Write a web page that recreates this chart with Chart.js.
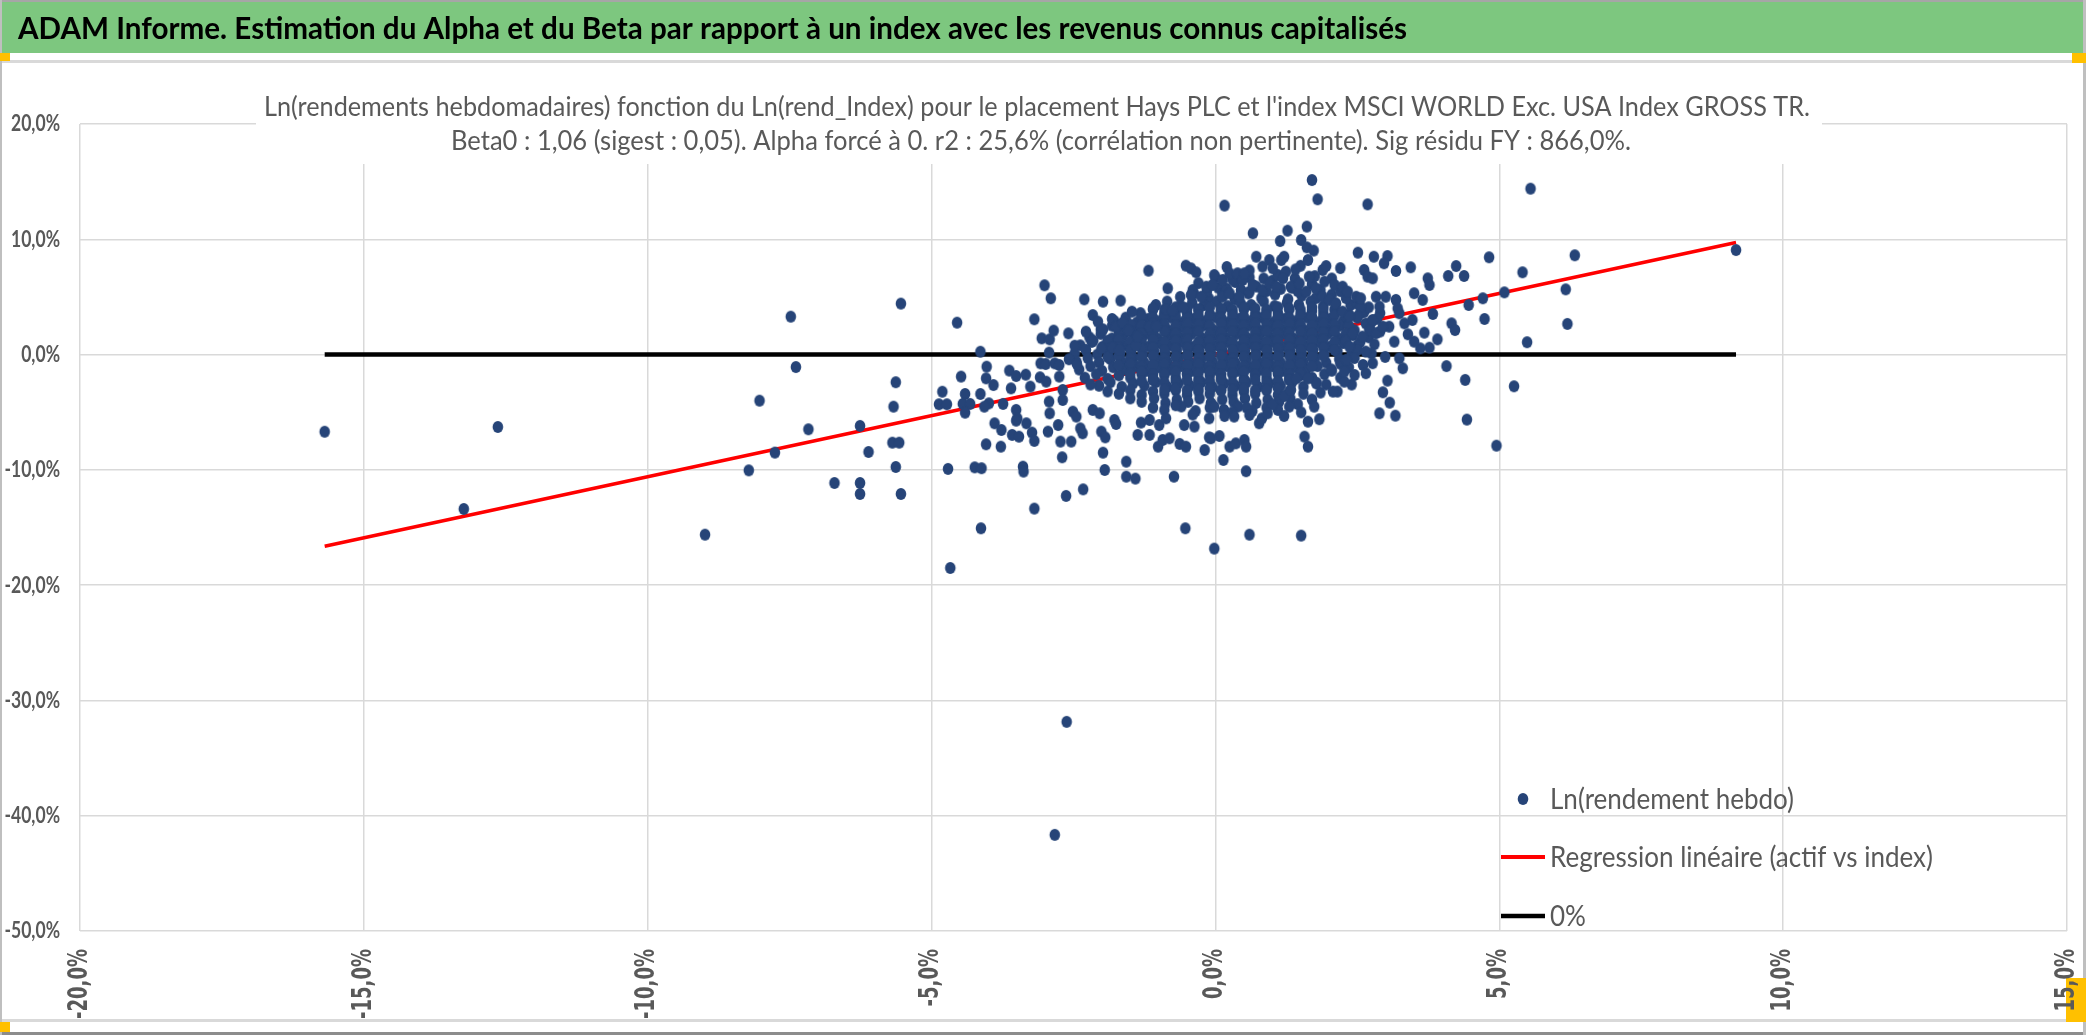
<!DOCTYPE html>
<html>
<head>
<meta charset="utf-8">
<script src="https://cdn.jsdelivr.net/npm/chart.js@4.4.1/dist/chart.umd.min.js"></script>
<style>
  html, body { margin: 0; padding: 0; background: #fff; overflow: hidden; }
  canvas { display: block; }
</style>
</head>
<body>
<canvas id="scatter_hays" width="2086" height="1035"></canvas>
<script>
// Ln(rend index), Ln(rend Hays) en %
const leftTail = [
  [-15.69,-6.69],[-12.64,-6.28],[-13.24,-13.39],[-8.99,-15.62],[-7.48,3.29],[-7.39,-1.08],[-8.03,-4.0],
  [-7.17,-6.48],[-7.76,-8.5],[-8.22,-10.04],[-6.71,-11.14],[-6.26,-11.14],[-6.26,-12.09],[-6.26,-6.19],
  [-6.11,-8.45],[-5.63,-2.4],[-5.67,-4.52],[-5.69,-7.64],[-5.57,-7.64],[-5.63,-9.75],[-5.54,-12.09],[-5.54,4.42]
];
const crashWeeks = [[-2.62,-31.86],[-2.83,-41.66]];
const midLeft = [
  [-4.55,2.77],[-4.81,-3.22],[-4.87,-4.31],[-4.73,-4.31],[-4.48,-1.91],[-4.41,-3.42],[-4.45,-4.28],[-4.32,-4.28],
  [-4.41,-5.04],[-4.14,0.25],[-4.14,-3.42],[-4.03,-1.05],[-4.04,-2.06],[-3.91,-2.64],[-3.99,-4.23],[-4.07,-4.52],
  [-3.74,-4.28],[-3.89,-5.96],[-3.77,-6.54],[-4.04,-7.78],[-3.78,-7.99],[-4.71,-9.92],[-4.24,-9.78],[-4.12,-9.86],
  [-3.39,-9.72],[-3.38,-10.15],[-4.13,-15.07],[-4.67,-18.51],[-3.19,-13.36],[-2.63,-12.26],[-2.33,-11.69],
  [-1.95,-10.01],[-1.57,-9.29],[-1.57,-10.59],[-1.41,-10.76],[-1.98,-8.51],[-0.73,-10.59],[-0.53,-15.07],
  [-0.02,-16.83],[-2.70,-8.91],[-3.01,6.01],[-2.90,4.88],[-3.19,3.06],[-2.31,4.79],[-1.98,4.59],[-1.67,4.68],
  [-1.18,7.28],[-0.52,7.71],[-0.43,7.48],[-0.34,7.14],[-0.84,5.75],[-0.02,6.9],[-3.06,1.41],[-2.92,1.32],
  [-2.85,2.08],[-2.59,1.84],[-2.48,0.77],[-2.93,0.17],[-3.63,-1.39],[-3.51,-1.86],[-3.34,-1.74],[-3.6,-2.93],
  [-3.26,-2.78],[-3.51,-4.8],[-3.49,-5.53],[-3.51,-5.73],[-3.33,-5.96],[-3.58,-6.97],[-3.46,-7.12],[-3.23,-6.77],
  [-3.19,-7.49],[-2.95,-6.68],[-2.77,-6.11],[-2.73,-7.55],[-2.54,-7.55],[-2.92,-5.09],[-3.08,-0.76],[-2.99,-0.82],
  [-2.83,-0.76],[-2.75,-0.9],[-2.58,-0.41],[-2.44,-0.82],[-3.09,-1.97],[-2.98,-2.35],[-2.75,-1.91],[-2.69,-3.07],
  [-2.93,-4.08],[-2.69,-3.94],[-2.51,-4.95],[-2.45,-5.38],[-2.38,-6.4],[-2.34,-6.83],[-2.01,-6.68],[-1.94,-7.18],
  [-2.16,-4.8],[-2.04,-5.09],[-1.78,-5.67],[-1.75,-6.02],[-2.16,3.43],[-2.07,2.86],[-1.98,2.19],[-2.28,1.99],
  [-2.15,1.21],[-1.82,3.09],[-1.75,2.42],[-1.63,2.77],[-1.47,3.72],[-1.54,2.13],[-2.01,0.54],[-1.81,0.63],
  [-1.69,0.4],[-1.40,0.83],[-1.37,-6.97],[-1.16,-6.97],[-1.31,-5.9],[-1.16,-5.67],[-1.01,-7.99],[-0.93,-7.41],
  [-0.81,-7.26],[-0.63,-7.75],[-0.52,-7.99],[-0.19,-8.28],[-0.11,-7.18],[-0.55,-6.11],[-0.37,-6.25],[-0.99,-6.11],
  [-0.87,-5.53],[-0.87,3.93],[-0.75,3.81],[-0.57,4.1],[-0.43,5.17],[-0.25,5.02],[-0.16,5.89],[-0.05,6.04],
  [-1.16,2.42],[-1.04,2.42],[-1.37,1.56]
];
const midRight = [
  [1.70,15.14],[1.80,13.47],[2.68,13.03],[0.16,12.92],[0.66,10.52],[1.27,10.75],[1.61,11.1],[1.14,9.85],
  [1.51,9.94],[1.61,9.3],[1.73,9.02],[2.51,8.84],[2.79,8.49],[3.03,8.55],[2.97,7.92],[3.18,7.25],[3.44,7.57],
  [3.74,6.61],[3.77,6.04],[4.1,6.82],[4.24,7.68],[4.38,6.82],[4.82,8.44],[5.09,5.4],[4.71,4.88],[4.74,3.09],
  [4.46,4.3],[4.16,2.71],[4.22,2.13],[3.91,1.32],[4.07,-1.0],[4.4,-2.2],[4.43,-5.64],[4.95,-7.9],[3.83,3.52],
  [3.68,1.9],[3.77,0.6],[3.61,0.54],[3.50,1.12],[3.39,1.76],[3.47,3.0],[3.5,5.32],[3.65,4.74],[3.33,2.71],
  [3.24,3.58],[3.18,4.74],[3.21,4.01],[3.06,2.42],[3.15,1.12],[2.99,-0.2],[3.24,-0.32],[3.3,-1.19],[3.03,-2.26],
  [2.95,-3.27],[3.07,-4.17],[3.17,-5.3],[2.89,-5.09],[2.65,-1.62],[2.77,-0.75],[2.65,0.26],[2.45,-1.77],
  [2.27,-2.35],[2.27,-1.48],[2.15,-3.21],[2.07,-3.21],[2.04,-1.28],[1.78,-2.44],[1.63,-2.06],[1.43,-2.06],
  [1.74,-4.52],[1.83,-5.61],[1.63,-5.82],[1.57,-7.12],[1.63,-7.99],[1.51,-5.01],[1.30,-4.52],[1.21,-5.33],
  [1.51,-15.7],[0.6,-15.62],[0.54,-10.12],[0.14,-9.14],[0.25,-7.99],[0.36,-7.7],[0.51,-7.41],[0.54,-7.99],
  [0.07,-7.06],[-0.08,-7.26],[0.16,-5.33],[0.33,-5.38],[0.6,-5.24],[0.77,-5.96],[0.82,-5.53],[0.92,-5.09],
  [-0.02,-4.52],[-0.11,-5.53],[1.21,-3.59],[1.33,-3.07],
  [0.13,6.47],[0.25,7.05],[0.39,7.05],[0.48,6.47],[0.51,7.05],[0.72,8.49],[0.83,7.63],[0.95,8.2],[1.01,7.48],
  [1.16,8.2],[1.21,8.49],[1.24,7.19],[1.41,7.39],[1.63,8.2],[1.65,6.76],[1.89,7.34],[1.95,7.68],[1.92,6.33],
  [2.1,6.04],[2.24,5.89],[2.33,5.46],[2.48,5.02],[2.56,4.16],[2.62,7.34],[2.68,6.76],[2.77,6.61],[2.56,4.88],
  [2.83,5.02],[2.89,4.16],[3.0,5.02],[2.77,3.0],[2.71,2.13],[2.83,1.85],[2.95,2.42],[2.5,3.29],[2.59,1.56],
  [2.42,1.85],[2.36,0.69],[2.30,-0.46],[0.13,5.02],[0.25,5.32],[0.42,5.02],[0.6,5.46],[0.66,6.04],[0.83,5.6],
  [0.95,6.18],[1.07,5.89],[1.19,6.61],[1.33,5.89],[1.48,6.18],[1.6,5.46],[1.77,5.75],[1.89,5.02],[2.01,4.74],
  [2.12,4.45],[2.24,3.73],[2.36,3.29]
];
const rightTail = [[5.55,14.39],[6.33,8.61],[5.41,7.14],[6.17,5.66],[6.2,2.66],[5.49,1.07],[5.26,-2.75],[9.17,9.07]];
// le nuage dense autour de zéro
const coreUpper = [
  [-0.3,6.2],[0.05,5.8],[0.35,6.3],[0.72,5.9],[1.0,6.4],[1.35,5.8],[1.7,6.1],
  [-0.62,5.0],[-0.38,5.3],[-0.12,4.9],[0.12,5.2],[0.34,4.8],[0.58,5.3],[0.81,4.9],[1.05,5.2],[1.28,4.8],[1.52,5.1],[1.77,4.9],[2.05,5.2],
  [-1.05,4.3],[-0.85,4.6],[-0.62,4.2],[-0.41,4.5],[-0.2,4.3],[0.02,4.6],[0.22,4.2],[0.44,4.5],[0.63,4.3],[0.85,4.6],[1.04,4.2],[1.26,4.5],[1.47,4.3],[1.68,4.6],[1.9,4.2],[2.12,4.4],[2.38,4.3],
  [-1.32,3.6],[-1.1,3.9],[-0.9,3.5],[-0.7,3.8],[-0.5,3.6],[-0.3,3.9],[-0.1,3.5],[0.1,3.8],[0.3,3.6],[0.5,3.9],[0.7,3.5],[0.9,3.8],[1.1,3.6],[1.3,3.9],[1.5,3.5],[1.7,3.8],[1.9,3.6],[2.1,3.9],[2.35,3.5],[2.62,3.7],
  [-1.78,2.9],[-1.58,3.2],[-1.38,2.8],[-1.18,3.1],[-0.98,2.9],[-0.78,3.2],[-0.58,2.8],[-0.38,3.1],[-0.18,2.9],[0.02,3.2],[0.22,2.8],[0.42,3.1],[0.62,2.9],[0.82,3.2],[1.02,2.8],[1.22,3.1],[1.42,2.9],[1.62,3.2],[1.82,2.8],[2.02,3.1],[2.25,2.9],[2.5,3.2],[2.76,2.9],
  [-2.02,2.2],[-1.82,2.5],[-1.62,2.1],[-1.42,2.4],[-1.22,2.2],[-1.02,2.5],[-0.82,2.1],[-0.62,2.4],[-0.42,2.2],[-0.22,2.5],[-0.02,2.1],[0.18,2.4],[0.38,2.2],[0.58,2.5],[0.78,2.1],[0.98,2.4],[1.18,2.2],[1.38,2.5],[1.58,2.1],[1.78,2.4],[1.98,2.2],[2.2,2.5],[2.45,2.1],[2.72,2.3],
  [-2.22,1.5],[-2.02,1.8],[-1.82,1.4],[-1.62,1.7],[-1.42,1.5],[-1.22,1.8],[-1.02,1.4],[-0.82,1.7],[-0.62,1.5],[-0.42,1.8],[-0.22,1.4],[-0.02,1.7],[0.18,1.5],[0.38,1.8],[0.58,1.4],[0.78,1.7],[0.98,1.5],[1.18,1.8],[1.38,1.4],[1.58,1.7],[1.78,1.5],[1.98,1.8],[2.18,1.4],[2.42,1.7],[2.7,1.5],
  [-2.38,0.8],[-2.18,1.1],[-1.98,0.7],[-1.78,1.0],[-1.58,0.8],[-1.38,1.1],[-1.18,0.7],[-0.98,1.0],[-0.78,0.8],[-0.58,1.1],[-0.38,0.7],[-0.18,1.0],[0.02,0.8],[0.22,1.1],[0.42,0.7],[0.62,1.0],[0.82,0.8],[1.02,1.1],[1.22,0.7],[1.42,1.0],[1.62,0.8],[1.82,1.1],[2.02,0.7],[2.25,1.0],[2.5,0.8]
];
const coreLower = [
  [-2.48,0.1],[-2.28,0.4],[-2.08,0.0],[-1.88,0.3],[-1.68,0.1],[-1.48,0.4],[-1.28,0.0],[-1.08,0.3],[-0.88,0.1],[-0.68,0.4],[-0.48,0.0],[-0.28,0.3],[-0.08,0.1],[0.12,0.4],[0.32,0.0],[0.52,0.3],[0.72,0.1],[0.92,0.4],[1.12,0.0],[1.32,0.3],[1.52,0.1],[1.72,0.4],[1.92,0.0],[2.15,0.3],[2.4,0.1],
  [-2.45,-0.6],[-2.25,-0.3],[-2.05,-0.7],[-1.85,-0.4],[-1.65,-0.6],[-1.45,-0.3],[-1.25,-0.7],[-1.05,-0.4],[-0.85,-0.6],[-0.65,-0.3],[-0.45,-0.7],[-0.25,-0.4],[-0.05,-0.6],[0.15,-0.3],[0.35,-0.7],[0.55,-0.4],[0.75,-0.6],[0.95,-0.3],[1.15,-0.7],[1.35,-0.4],[1.55,-0.6],[1.75,-0.3],[1.95,-0.7],[2.18,-0.4],
  [-2.4,-1.3],[-2.2,-1.0],[-2.0,-1.4],[-1.8,-1.1],[-1.6,-1.3],[-1.4,-1.0],[-1.2,-1.4],[-1.0,-1.1],[-0.8,-1.3],[-0.6,-1.0],[-0.4,-1.4],[-0.2,-1.1],[0.0,-1.3],[0.2,-1.0],[0.4,-1.4],[0.6,-1.1],[0.8,-1.3],[1.0,-1.0],[1.2,-1.4],[1.4,-1.1],[1.6,-1.3],[1.8,-1.0],[2.05,-1.4],
  [-2.3,-2.0],[-2.1,-1.7],[-1.9,-2.1],[-1.7,-1.8],[-1.5,-2.0],[-1.3,-1.7],[-1.1,-2.1],[-0.9,-1.8],[-0.7,-2.0],[-0.5,-1.7],[-0.3,-2.1],[-0.1,-1.8],[0.1,-2.0],[0.3,-1.7],[0.5,-2.1],[0.7,-1.8],[0.9,-2.0],[1.1,-1.7],[1.3,-2.1],[1.5,-1.8],[1.7,-2.0],[1.92,-1.7],
  [-2.05,-2.7],[-1.85,-2.4],[-1.65,-2.8],[-1.45,-2.5],[-1.25,-2.7],[-1.05,-2.4],[-0.85,-2.8],[-0.65,-2.5],[-0.45,-2.7],[-0.25,-2.4],[-0.05,-2.8],[0.15,-2.5],[0.35,-2.7],[0.55,-2.4],[0.75,-2.8],[0.95,-2.5],[1.15,-2.7],[1.35,-2.4],[1.55,-2.8],[1.78,-2.5],
  [-1.7,-3.4],[-1.5,-3.1],[-1.3,-3.5],[-1.1,-3.2],[-0.9,-3.4],[-0.7,-3.1],[-0.5,-3.5],[-0.3,-3.2],[-0.1,-3.4],[0.1,-3.1],[0.3,-3.5],[0.5,-3.2],[0.7,-3.4],[0.9,-3.1],[1.1,-3.5],[1.3,-3.2],[1.55,-3.4],
  [-1.3,-4.1],[-1.08,-3.8],[-0.88,-4.2],[-0.68,-3.9],[-0.48,-4.1],[-0.28,-3.8],[-0.08,-4.2],[0.12,-3.9],[0.32,-4.1],[0.52,-3.8],[0.72,-4.2],[0.92,-3.9],[1.12,-4.1],[1.32,-3.8],
  [-0.9,-4.8],[-0.6,-4.5],[-0.35,-4.9],[-0.1,-4.6],[0.15,-4.8],[0.4,-4.5],[0.65,-4.9],[0.9,-4.6],[1.1,-4.8]
];
// zone la plus serrée du nuage, entre les rangées ci-dessus
const coreFill = [
  [-1.1,4.0],[-0.9,3.9],[-0.7,4.1],[-0.5,4.0],[-0.3,3.9],[-0.1,4.1],[0.1,4.0],[0.3,3.9],[0.5,4.1],[0.7,4.0],[0.9,3.9],[1.1,4.1],[1.3,4.0],[1.5,3.9],[1.7,4.1],[1.9,4.0],[2.1,3.9],
  [-1.3,3.3],[-1.1,3.2],[-0.9,3.4],[-0.7,3.3],[-0.5,3.2],[-0.3,3.4],[-0.1,3.3],[0.1,3.2],[0.3,3.4],[0.5,3.3],[0.7,3.2],[0.9,3.4],[1.1,3.3],[1.3,3.2],[1.5,3.4],[1.7,3.3],[1.9,3.2],[2.1,3.4],[2.3,3.3],
  [-1.5,2.6],[-1.3,2.5],[-1.1,2.7],[-0.9,2.6],[-0.7,2.5],[-0.5,2.7],[-0.3,2.6],[-0.1,2.5],[0.1,2.7],[0.3,2.6],[0.5,2.5],[0.7,2.7],[0.9,2.6],[1.1,2.5],[1.3,2.7],[1.5,2.6],[1.7,2.5],[1.9,2.7],[2.1,2.6],[2.35,2.5],
  [-1.7,1.9],[-1.5,2.0],[-1.3,1.8],[-1.1,1.9],[-0.9,2.0],[-0.7,1.8],[-0.5,1.9],[-0.3,2.0],[-0.1,1.8],[0.1,1.9],[0.3,2.0],[0.5,1.8],[0.7,1.9],[0.9,2.0],[1.1,1.8],[1.3,1.9],[1.5,2.0],[1.7,1.8],[1.9,1.9],[2.1,2.0],[2.3,1.8],
  [-1.9,1.2],[-1.7,1.3],[-1.5,1.1],[-1.3,1.2],[-1.1,1.3],[-0.9,1.1],[-0.7,1.2],[-0.5,1.3],[-0.3,1.1],[-0.1,1.2],[0.1,1.3],[0.3,1.1],[0.5,1.2],[0.7,1.3],[0.9,1.1],[1.1,1.2],[1.3,1.3],[1.5,1.1],[1.7,1.2],[1.9,1.3],[2.1,1.1],[2.3,1.2],
  [-1.9,0.5],[-1.7,0.6],[-1.5,0.4],[-1.3,0.5],[-1.1,0.6],[-0.9,0.4],[-0.7,0.5],[-0.5,0.6],[-0.3,0.4],[-0.1,0.5],[0.1,0.6],[0.3,0.4],[0.5,0.5],[0.7,0.6],[0.9,0.4],[1.1,0.5],[1.3,0.6],[1.5,0.4],[1.7,0.5],[1.9,0.6],[2.1,0.4],
  [-1.9,-0.2],[-1.7,-0.1],[-1.5,-0.3],[-1.3,-0.2],[-1.1,-0.1],[-0.9,-0.3],[-0.7,-0.2],[-0.5,-0.1],[-0.3,-0.3],[-0.1,-0.2],[0.1,-0.1],[0.3,-0.3],[0.5,-0.2],[0.7,-0.1],[0.9,-0.3],[1.1,-0.2],[1.3,-0.1],[1.5,-0.3],[1.7,-0.2],[1.9,-0.1],
  [-1.7,-0.9],[-1.5,-0.8],[-1.3,-1.0],[-1.1,-0.9],[-0.9,-0.8],[-0.7,-1.0],[-0.5,-0.9],[-0.3,-0.8],[-0.1,-1.0],[0.1,-0.9],[0.3,-0.8],[0.5,-1.0],[0.7,-0.9],[0.9,-0.8],[1.1,-1.0],[1.3,-0.9],[1.5,-0.8],[1.7,-1.0],
  [-1.5,-1.6],[-1.3,-1.5],[-1.1,-1.7],[-0.9,-1.6],[-0.7,-1.5],[-0.5,-1.7],[-0.3,-1.6],[-0.1,-1.5],[0.1,-1.7],[0.3,-1.6],[0.5,-1.5],[0.7,-1.7],[0.9,-1.6],[1.1,-1.5],[1.3,-1.7],[1.5,-1.6],
  [-1.3,-2.3],[-1.1,-2.2],[-0.9,-2.4],[-0.7,-2.3],[-0.5,-2.2],[-0.3,-2.4],[-0.1,-2.3],[0.1,-2.2],[0.3,-2.4],[0.5,-2.3],[0.7,-2.2],[0.9,-2.4],[1.1,-2.3],[1.3,-2.2],
  [-0.9,-3.0],[-0.7,-2.9],[-0.5,-3.1],[-0.3,-3.0],[-0.1,-2.9],[0.1,-3.1],[0.3,-3.0],[0.5,-2.9],[0.7,-3.1],[0.9,-3.0],[1.1,-2.9]
];
// bords du nuage (haut, droite, bas)
const coreEdges = [
  [-0.4,5.6],[-0.15,5.5],[0.2,5.7],[0.45,5.6],[0.9,5.5],[1.15,5.7],[1.45,5.5],[1.85,5.6],[2.2,5.5],
  [0.0,6.7],[0.3,6.5],[0.6,6.7],[0.85,6.6],[1.1,6.9],[1.4,6.6],[1.75,6.8],[2.05,6.6],
  [0.2,7.6],[0.6,7.3],[1.5,7.7],[2.2,7.5],
  [2.3,4.9],[2.5,4.4],[2.7,4.1],[2.9,3.6],[2.55,3.6],[2.85,3.1],[2.65,2.7],[2.9,2.0],[2.55,1.1],[2.8,0.9],
  [2.5,0.4],[2.75,0.1],[2.45,-0.3],[2.6,-0.9],[2.35,-1.1],[2.2,-0.8],[2.4,-2.6],[2.2,-2.0],[1.95,-2.6],
  [1.85,-3.3],[1.7,-3.9],[1.45,-4.3],
  [-0.7,-4.4],[-0.4,-5.2],[0.3,-5.0],[0.55,-4.6],[1.0,-4.3],[-1.1,-4.6],[-1.5,-3.8],[-1.9,-3.2],[-2.2,-2.6]
];

const beta0 = 1.06; // alpha forcé à 0
const xTicks = [-20, -15, -10, -5, 0, 5, 10, 15];
const yTicks = [20, 10, 0, -10, -20, -30, -40, -50];

const headerText = 'ADAM Informe. Estimation du Alpha et du Beta par rapport à un index avec les revenus connus capitalisés';
const titleLines = [
  "Ln(rendements hebdomadaires) fonction du Ln(rend_Index) pour le placement Hays PLC et l'index MSCI WORLD Exc. USA Index GROSS TR.",
  'Beta0 : 1,06 (sigest : 0,05). Alpha forcé à 0. r2 : 25,6% (corrélation non pertinente). Sig résidu FY : 866,0%.'
];
const legendLabels = ['Ln(rendement hebdo)', 'Regression linéaire (actif vs index)', '0%'];

const allPoints = [].concat(coreUpper, coreLower, coreFill, coreEdges, midLeft, midRight, leftTail, rightTail, crashWeeks)
  .map(([x, y]) => ({x: x, y: y}));
const xMin = Math.min(...allPoints.map(p => p.x));
const xMax = Math.max(...allPoints.map(p => p.x));
const regression = [{x: xMin, y: beta0 * xMin}, {x: xMax, y: beta0 * xMax}];
const zeroLine = [{x: xMin, y: 0}, {x: xMax, y: 0}];

const GREY_TEXT = '#595959';
const DOT = '#264478';

// marqueur un peu plus haut que large, comme dans l'export Excel
const dotImage = document.createElement('canvas');
dotImage.width = 14;
dotImage.height = 14;
(function () {
    const c = dotImage.getContext('2d');
    c.fillStyle = DOT;
    c.beginPath();
    c.ellipse(7, 7, 5.3, 6.0, 0, 0, Math.PI * 2);
    c.fill();
})();

function pct(v) {
    return v.toFixed(1).replace('.', ',') + '%';
}

// texte compressé horizontalement pour imiter le Calibri étroit
function fitText(ctx, text, x, y, width) {
    const w = ctx.measureText(text).width;
    ctx.save();
    ctx.translate(x, y);
    ctx.scale(width / w, 1);
    ctx.textAlign = 'left';
    ctx.fillText(text, 0, 0);
    ctx.restore();
}

const framePlugin = {
    id: 'framePlugin',
    beforeDraw: (chart) => {
        const ctx = chart.ctx;
        ctx.save();
        ctx.fillStyle = '#ffffff';
        ctx.fillRect(0, 0, chart.width, chart.height);
        // bandeau vert
        ctx.fillStyle = '#a6a6a6';
        ctx.fillRect(0, 0, chart.width, 2);
        ctx.fillStyle = '#7dc77f';
        ctx.fillRect(0, 2, chart.width, 51);
        ctx.fillStyle = '#d9d9d9';
        ctx.fillRect(0, 60, chart.width, 3);
        ctx.fillRect(0, 1019, chart.width, 3);
        ctx.fillStyle = '#8c8c8c';
        ctx.fillRect(0, 1032, chart.width, 3);
        ctx.fillStyle = '#bfbfbf';
        ctx.fillRect(0, 0, 2, chart.height);
        ctx.fillRect(chart.width - 3, 0, 3, chart.height);
        // petits carrés orange
        ctx.fillStyle = '#ffc000';
        ctx.fillRect(0, 53, 10, 8);
        ctx.fillRect(chart.width - 14, 53, 14, 10);
        ctx.fillRect(0, 1022, 10, 10);
        ctx.fillRect(chart.width - 20, 978, 20, 44);

        ctx.fillStyle = '#000000';
        ctx.font = 'bold 31px Lato';
        ctx.textBaseline = 'alphabetic';
        fitText(ctx, headerText, 18, 39, 1389);
        ctx.restore();
    },
    beforeDatasetsDraw: (chart) => {
        const ctx = chart.ctx;
        ctx.save();
        ctx.fillStyle = '#ffffff';
        ctx.fillRect(256, 64, 1566, 100);
        ctx.fillStyle = GREY_TEXT;
        ctx.font = '27px Lato';
        ctx.textBaseline = 'alphabetic';
        fitText(ctx, titleLines[0], 264, 116, 1546);
        fitText(ctx, titleLines[1], 451, 150, 1180);
        ctx.restore();
    },
    afterDraw: (chart) => {
        const ctx = chart.ctx;
        const xAxis = chart.scales.x;
        const yAxis = chart.scales.y;
        ctx.save();
        ctx.fillStyle = GREY_TEXT;

        // graduations de l'axe vertical
        ctx.font = 'bold 23px Lato';
        ctx.textBaseline = 'middle';
        const sy = 49 / ctx.measureText(pct(20)).width;
        yTicks.forEach(v => {
            const label = pct(v);
            const w = ctx.measureText(label).width * sy;
            fitText(ctx, label, 60 - w, yAxis.getPixelForValue(v), w);
        });

        // graduations de l'axe horizontal, tournées
        ctx.font = 'bold 26px "DejaVu Sans"';
        const sx = 50 / ctx.measureText(pct(0)).width;
        xTicks.forEach(v => {
            ctx.save();
            ctx.translate(xAxis.getPixelForValue(v), 949);
            ctx.rotate(-Math.PI / 2);
            ctx.scale(sx, 1);
            ctx.textAlign = 'right';
            ctx.textBaseline = 'middle';
            ctx.fillText(pct(v), 0, 0);
            ctx.restore();
        });

        // légende dans la zone du graphique
        ctx.drawImage(dotImage, 1516, 792);
        ctx.lineWidth = 4;
        ctx.strokeStyle = '#ff0000';
        ctx.beginPath();
        ctx.moveTo(1501, 857);
        ctx.lineTo(1545, 857);
        ctx.stroke();
        ctx.lineWidth = 4.5;
        ctx.strokeStyle = '#000000';
        ctx.beginPath();
        ctx.moveTo(1501, 916);
        ctx.lineTo(1545, 916);
        ctx.stroke();

        ctx.fillStyle = GREY_TEXT;
        ctx.font = '29px Lato';
        ctx.textBaseline = 'alphabetic';
        const sl = 383 / ctx.measureText(legendLabels[1]).width;
        [809, 867, 926].forEach((y, i) => {
            fitText(ctx, legendLabels[i], 1550, y, ctx.measureText(legendLabels[i]).width * sl);
        });
        ctx.restore();
    }
};

const ctx_hays = document.getElementById('scatter_hays').getContext('2d');

new Chart(ctx_hays, {
    type: 'scatter',
    data: {
        datasets: [{
            label: legendLabels[0],
            data: allPoints,
            pointStyle: dotImage,
            pointRadius: 6,
            pointHoverRadius: 6,
            pointBorderWidth: 0,
            pointBackgroundColor: DOT,
            backgroundColor: DOT
        }, {
            label: legendLabels[1],
            type: 'line',
            data: regression,
            borderColor: '#ff0000',
            borderWidth: 3.5,
            pointRadius: 0,
            fill: false
        }, {
            label: legendLabels[2],
            type: 'line',
            data: zeroLine,
            borderColor: '#000000',
            borderWidth: 4.5,
            pointRadius: 0,
            fill: false
        }]
    },
    options: {
        responsive: false,
        animation: false,
        devicePixelRatio: 1,
        layout: {
            padding: {left: 80, right: 19, top: 124, bottom: 104}
        },
        scales: {
            x: {
                type: 'linear',
                min: -20,
                max: 15,
                ticks: {display: false, stepSize: 5},
                grid: {color: '#d9d9d9', lineWidth: 1.5, drawTicks: false},
                border: {display: false}
            },
            y: {
                type: 'linear',
                min: -50,
                max: 20,
                ticks: {display: false, stepSize: 10},
                grid: {color: '#d9d9d9', lineWidth: 1.5, drawTicks: false},
                border: {display: false}
            }
        },
        plugins: {
            legend: {display: false},
            tooltip: {enabled: false}
        }
    },
    plugins: [framePlugin]
});
</script>
</body>
</html>
